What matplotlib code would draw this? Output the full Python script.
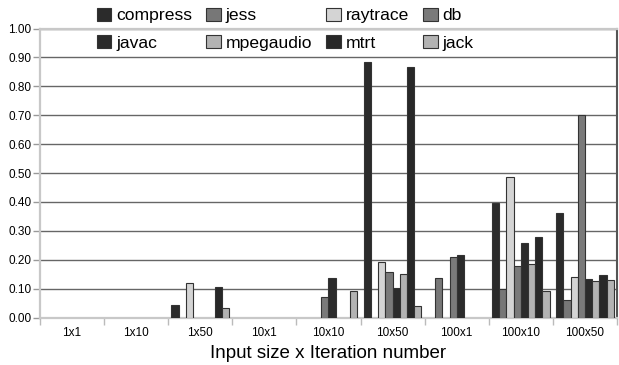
import numpy as np
import matplotlib
matplotlib.use("Agg")
import matplotlib.pyplot as plt
from matplotlib.patches import Patch

plt.rcParams['font.family'] = ['Liberation Sans', 'DejaVu Sans']

groups = ["1x1", "1x10", "1x50", "10x1", "10x10", "10x50", "100x1", "100x10", "100x50"]
series = ["compress", "jess", "raytrace", "db", "javac", "mpegaudio", "mtrt", "jack"]
nan = np.nan
compress  = [nan, nan, 0.042, nan, nan, 0.886, nan, 0.398, 0.361]
jess      = [nan, nan, nan, nan, nan, nan, 0.137, 0.100, 0.060]
raytrace  = [nan, nan, 0.118, nan, nan, 0.192, nan, 0.487, 0.139]
db        = [nan, nan, nan, nan, 0.070, 0.156, 0.208, 0.179, 0.702]
javac     = [nan, nan, nan, nan, 0.136, 0.103, 0.217, 0.258, 0.132]
mpegaudio = [nan, nan, nan, nan, nan, 0.150, nan, 0.186, 0.127]
mtrt      = [nan, nan, 0.106, nan, nan, 0.867, nan, 0.279, 0.146]
jack      = [nan, nan, 0.033, nan, 0.090, 0.039, nan, 0.091, 0.129]
values = [compress, jess, raytrace, db, javac, mpegaudio, mtrt, jack]
colors = ["#2b2b2b", "#777777", "#d4d4d4", "#7a7a7a", "#2b2b2b", "#b3b3b3", "#282828", "#b3b3b3"]
yticks = [0.0, 0.1, 0.2, 0.3, 0.4, 0.5, 0.6, 0.7, 0.8, 0.9, 1.0]

fig = plt.figure(figsize=(6.19, 3.65), dpi=100)
ax = fig.add_axes([40/619, 1-317.5/365, 577/619, (317.5-28.6)/365])

n = len(series)
bw = 0.9 / n
x = np.arange(len(groups))
for i, (vals, c) in enumerate(zip(values, colors)):
    ax.bar(x - 0.45 + bw*(i+0.5), vals, width=bw, color=c, edgecolor="#333333",
           linewidth=0.8, zorder=3)

ax.set_xlim(-0.5, len(groups)-0.5)
ax.set_ylim(0, 1.0)
ax.set_yticks(yticks)
ax.set_yticklabels([f"{v:.2f}" for v in yticks], fontsize=8.5)
ax.yaxis.grid(True, color="#666666", linewidth=1.0, zorder=0)
ax.set_axisbelow(True)

ax.set_xticks(np.arange(len(groups)+1) - 0.5)
ax.set_xticklabels([])
ax.set_xticks(x, minor=True)
ax.set_xticklabels(groups, minor=True, fontsize=8.5)
ax.tick_params(axis='x', which='major', length=5, color="#bbbbbb", width=1)
ax.tick_params(axis='x', which='minor', length=0, pad=7)
ax.tick_params(axis='y', length=5, color="#999999", width=1, pad=1)

for s in ["left", "bottom", "top"]:
    ax.spines[s].set_color("#c8c8c8")
    ax.spines[s].set_linewidth(1.6)
ax.spines["right"].set_color("#555555")
ax.spines["right"].set_linewidth(1.5)

ax.set_xlabel("Input size x Iteration number", fontsize=13.5, labelpad=4)

handles = [Patch(facecolor=c, edgecolor="#333333", linewidth=0.8) for c in colors]
order = [0, 4, 1, 5, 2, 6, 3, 7]
fig.legend([handles[k] for k in order], [series[k] for k in order],
           ncol=4, loc="upper left", bbox_to_anchor=(97/619, 1-7.5/365),
           frameon=False, fontsize=12.6, handlelength=0.82, handleheight=0.82,
           handletextpad=0.29, columnspacing=0.8, labelspacing=0.65, borderpad=0,
           borderaxespad=0)

fig.savefig("out.png", dpi=100)
